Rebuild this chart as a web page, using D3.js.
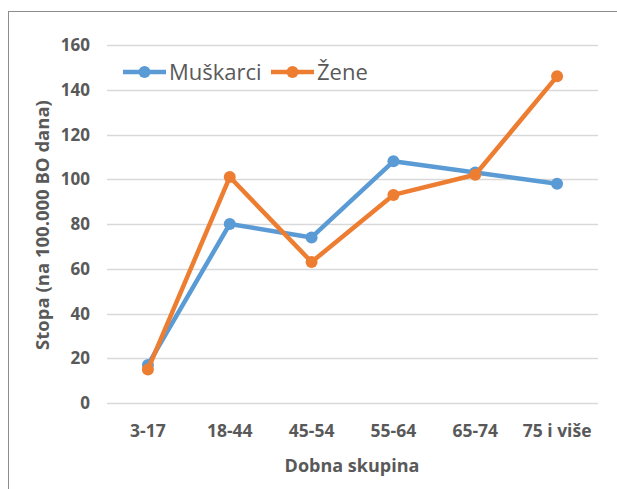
<!DOCTYPE html>
<html>
<head>
<meta charset="utf-8">
<script src="https://cdn.jsdelivr.net/npm/d3@7"></script>
<style>
  body { margin: 0; background: #fff; }
  text { font-family: "Open Sans", sans-serif; fill: #595959; }
</style>
</head>
<body>
<div id="chart"></div>
<script>
// data
var categories = ["3-17", "18-44", "45-54", "55-64", "65-74", "75 i više"];
var muskarci = [17, 80, 74, 108, 103, 98];
var zene = [15, 101, 63, 93, 102, 146];
var yTicks = [0, 20, 40, 60, 80, 100, 120, 140, 160];

var series = [
  { name: "Muškarci", values: muskarci, color: "#5B9BD5" },
  { name: "Žene", values: zene, color: "#ED7D31" }
];

var W = 617, H = 489;
var svg = d3.select("#chart").append("svg")
  .attr("width", W)
  .attr("height", H);

// outer chart border
svg.append("rect")
  .attr("x", 8.5).attr("y", 11.5)
  .attr("width", 620).attr("height", 490)
  .attr("fill", "none")
  .attr("stroke", "#8c8c8c");

var x = d3.scaleBand().domain(categories).range([107, 598]);
var y = d3.scaleLinear().domain([0, 160]).range([403, 45]);

// gridlines
svg.append("g")
  .selectAll("line")
  .data(yTicks)
  .enter()
  .append("line")
  .attr("x1", 107).attr("x2", 598)
  .attr("y1", function(d) { return Math.round(y(d)) + 0.5; })
  .attr("y2", function(d) { return Math.round(y(d)) + 0.5; })
  .attr("stroke", "#d9d9d9")
  .attr("stroke-width", 1.3);

// y tick labels
svg.append("g")
  .selectAll("text")
  .data(yTicks)
  .enter()
  .append("text")
  .attr("x", 90)
  .attr("y", function(d) { return y(d) + 6; })
  .attr("text-anchor", "end")
  .style("font-size", "17px")
  .style("font-weight", "bold")
  .text(function(d) { return d; });

// x tick labels
svg.append("g")
  .selectAll("text")
  .data(categories)
  .enter()
  .append("text")
  .attr("x", function(d) { return x(d) + x.bandwidth() / 2; })
  .attr("y", 437)
  .attr("text-anchor", "middle")
  .style("font-size", "17.5px")
  .style("font-weight", "bold")
  .text(function(d) { return d; });

// axis titles
svg.append("text")
  .attr("x", 352).attr("y", 472)
  .attr("text-anchor", "middle")
  .style("font-size", "18px")
  .style("font-weight", "bold")
  .text("Dobna skupina");

svg.append("text")
  .attr("transform", "translate(49,225) rotate(-90)")
  .attr("text-anchor", "middle")
  .style("font-size", "18.5px")
  .style("font-weight", "bold")
  .text("Stopa (na 100.000 BO dana)");

// lines + markers
var line = d3.line()
  .x(function(d, i) { return x(categories[i]) + x.bandwidth() / 2; })
  .y(function(d) { return y(d); });

series.forEach(function(s) {
  var g = svg.append("g");
  g.append("path")
    .attr("d", line(s.values))
    .attr("fill", "none")
    .attr("stroke", s.color)
    .attr("stroke-width", 4.5)
    .attr("stroke-linejoin", "round");
  g.selectAll("circle")
    .data(s.values)
    .enter()
    .append("circle")
    .attr("cx", function(d, i) { return x(categories[i]) + x.bandwidth() / 2; })
    .attr("cy", function(d) { return y(d); })
    .attr("r", 6)
    .attr("fill", s.color);
});

// legend
var legendPos = [123, 271];
var legend = svg.append("g")
  .selectAll("g")
  .data(series)
  .enter()
  .append("g")
  .attr("transform", function(d, i) {
    return "translate(" + legendPos[i] + ",72)";
  });
legend.append("line")
  .attr("x1", 0).attr("x2", 43)
  .attr("y1", 0).attr("y2", 0)
  .attr("stroke", function(d) { return d.color; })
  .attr("stroke-width", 4.5);
legend.append("circle")
  .attr("cx", 21.5).attr("cy", 0)
  .attr("r", 6)
  .attr("fill", function(d) { return d.color; });
legend.append("text")
  .attr("x", 46)
  .attr("y", 8)
  .style("font-size", "22px")
  .text(function(d) { return d.name; });
</script>
</body>
</html>
